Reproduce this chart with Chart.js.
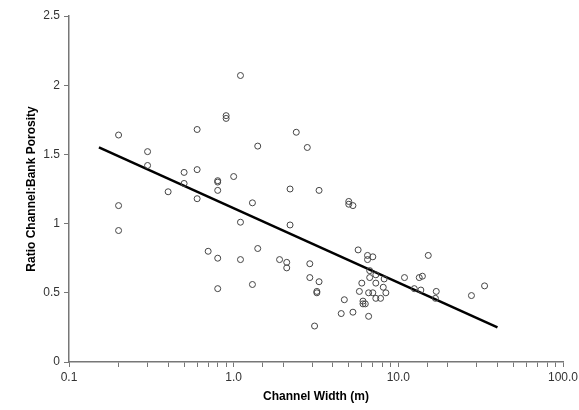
<!DOCTYPE html>
<html>
<head>
<meta charset="utf-8">
<script src="https://cdn.jsdelivr.net/npm/chart.js@4"></script>
<style>
  html, body { margin: 0; padding: 0; background: #fff; }
  #wrap { width: 579px; height: 410px; }
</style>
</head>
<body>
<div id="wrap"><canvas id="chart" width="579" height="410"></canvas></div>
<script>
// channel width (m) and ratio of channel:bank porosity
const widths = [0.2, 0.2, 0.2, 0.3, 0.3, 0.4, 0.5, 0.5, 0.6, 0.6, 0.6, 0.9, 0.9, 1.1, 1.4, 2.4, 2.8,
  0.8, 0.8, 1.0, 0.8, 1.3, 2.2, 3.3, 5.0, 5.0, 5.3, 1.1, 2.2, 0.7, 0.8, 1.1, 1.4, 1.9, 2.1, 2.1,
  2.9, 2.9, 3.3, 3.2, 3.2, 3.1, 0.8, 1.3, 5.7, 6.5, 7.0, 6.5, 6.7, 7.3, 6.7, 8.2, 10.9, 13.4, 14.0,
  15.2, 7.3, 6.0, 8.1, 5.8, 6.6, 7.0, 8.4, 12.5, 13.7, 17.0, 16.8, 4.7, 7.3, 7.8, 6.1, 6.1, 6.3,
  27.8, 33.4, 4.5, 5.3, 6.6];
const ratios = [1.64, 1.13, 0.95, 1.52, 1.42, 1.23, 1.37, 1.29, 1.68, 1.39, 1.18, 1.76, 1.78, 2.07, 1.56, 1.66, 1.55,
  1.30, 1.31, 1.34, 1.24, 1.15, 1.25, 1.24, 1.16, 1.14, 1.13, 1.01, 0.99, 0.80, 0.75, 0.74, 0.82, 0.74, 0.72, 0.68,
  0.71, 0.61, 0.58, 0.50, 0.51, 0.26, 0.53, 0.56, 0.81, 0.77, 0.76, 0.74, 0.66, 0.63, 0.61, 0.60, 0.61, 0.61, 0.62,
  0.77, 0.57, 0.57, 0.54, 0.51, 0.50, 0.50, 0.50, 0.53, 0.52, 0.51, 0.46, 0.45, 0.46, 0.46, 0.44, 0.42, 0.42,
  0.48, 0.55, 0.35, 0.36, 0.33];

// fitted trend line end points
const trendX = [0.152, 40];
const trendY = [1.55, 0.25];

const yTicks = [0, 0.5, 1, 1.5, 2, 2.5];

const points = widths.map((w, i) => ({ x: w, y: ratios[i] }));
const trend = trendX.map((w, i) => ({ x: w, y: trendY[i] }));

const isDecade = v => Math.abs(Math.log10(v) - Math.round(Math.log10(v))) < 1e-6;
const font = 'Liberation Sans, Arial, sans-serif';

new Chart(document.getElementById('chart'), {
  type: 'scatter',
  data: {
    datasets: [
      {
        data: points,
        pointRadius: 3,
        pointHoverRadius: 3,
        pointBackgroundColor: 'rgba(0,0,0,0)',
        pointBorderColor: '#444',
        pointBorderWidth: 1,
        showLine: false
      },
      {
        type: 'line',
        data: trend,
        borderColor: '#000',
        borderWidth: 2.5,
        pointRadius: 0,
        fill: false
      }
    ]
  },
  options: {
    responsive: false,
    animation: false,
    layout: { padding: { left: 0, right: 16, top: 16, bottom: 0 } },
    plugins: { legend: { display: false }, tooltip: { enabled: false } },
    scales: {
      x: {
        type: 'logarithmic',
        min: 0.1,
        max: 100,
        afterFit: s => { s.height = 48; s.paddingLeft = 0; s.paddingRight = 0; },
        border: { color: '#777', width: 1.5 },
        grid: { drawOnChartArea: false, drawTicks: true, tickLength: 5, color: '#777', lineWidth: 1 },
        ticks: {
          autoSkip: false,
          maxRotation: 0,
          color: '#333',
          padding: 3,
          font: { family: font, size: 12 },
          callback: v => isDecade(v) ? v.toFixed(1) : ''
        },
        title: {
          display: true,
          text: 'Channel Width (m)',
          color: '#000',
          font: { family: font, size: 12, weight: 'bold' },
          padding: { top: 4, bottom: 6 }
        }
      },
      y: {
        min: 0,
        max: 2.5,
        afterBuildTicks: s => { s.ticks = yTicks.map(v => ({ value: v })); },
        afterFit: s => { s.width = 69; s.paddingTop = 0; s.paddingBottom = 0; },
        border: { color: '#777', width: 1.5 },
        grid: { drawOnChartArea: false, drawTicks: true, tickLength: 5, color: '#777', lineWidth: 1 },
        ticks: {
          color: '#333',
          padding: 4,
          font: { family: font, size: 12 },
          callback: v => String(v)
        },
        title: {
          display: true,
          text: 'Ratio Channel:Bank Porosity',
          color: '#000',
          font: { family: font, size: 12, weight: 'bold' },
          padding: { top: 24, bottom: 4 }
        }
      }
    }
  }
});
</script>
</body>
</html>
